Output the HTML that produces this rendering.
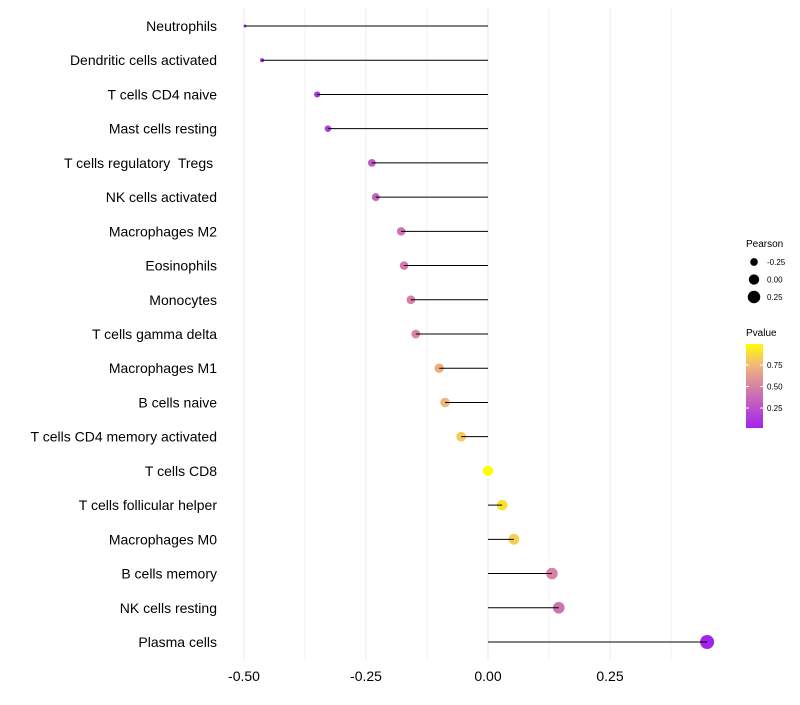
<!DOCTYPE html>
<html><head><meta charset="utf-8"><style>
body{margin:0;background:#fff}
svg{font-family:"Liberation Sans",sans-serif}
text{white-space:pre}
</style></head><body>
<svg id="c" width="800" height="700"></svg>
<script>
const categories=["Neutrophils","Dendritic cells activated","T cells CD4 naive","Mast cells resting","T cells regulatory  Tregs ","NK cells activated","Macrophages M2","Eosinophils","Monocytes","T cells gamma delta","Macrophages M1","B cells naive","T cells CD4 memory activated","T cells CD8","T cells follicular helper","Macrophages M0","B cells memory","NK cells resting","Plasma cells"];
const pearson=[-0.498,-0.463,-0.350,-0.328,-0.238,-0.230,-0.178,-0.172,-0.158,-0.148,-0.100,-0.088,-0.055,0.0,0.029,0.053,0.131,0.145,0.449];
const pvalue=[0.02,0.03,0.1,0.15,0.3,0.33,0.42,0.45,0.48,0.52,0.7,0.73,0.82,0.99,0.9,0.83,0.5,0.42,0.02];
const xTicks=[-0.5,-0.25,0,0.25];
const xTickLabels=["-0.50","-0.25","0.00","0.25"];
const legendSizes=[-0.25,0,0.25];
const legendSizeLabels=["-0.25","0.00","0.25"];
const colorTicks=[0.25,0.5,0.75];
const colorTickLabels=["0.25","0.50","0.75"];

const NS="http://www.w3.org/2000/svg";
const svg=document.getElementById('c');
function el(t,a,p){const e=document.createElementNS(NS,t);for(const k in a)e.setAttribute(k,a[k]);(p||svg).appendChild(e);return e;}
const x=v=>488+v*488;
const y=i=>26+i*(642-26)/18;
const r=v=>Math.sqrt(Math.max(1,26.85+49.2*v));
function col(p){
  const stops=[[0,[160,32,240]],[0.5,[215,130,165]],[0.75,[240,185,120]],[1,[255,255,0]]];
  for(let i=1;i<stops.length;i++){if(p<=stops[i][0]){const a=stops[i-1],b=stops[i];const t=(p-a[0])/(b[0]-a[0]);
    return 'rgb('+a[1].map((c,j)=>Math.round(c+(b[1][j]-c)*t)).join(',')+')';}}
  return 'rgb(255,255,0)';
}
[-0.375,-0.125,0.125,0.375].forEach(v=>{const g=el('line',{x1:x(v),x2:x(v),y1:8,y2:660,stroke:'#f3f3f3','stroke-width':1});

});
xTicks.forEach((v,i)=>{const g=el('line',{x1:x(v),x2:x(v),y1:8,y2:660,stroke:'#ebebeb','stroke-width':1});


const t=el('text',{x:x(v),y:681,'text-anchor':'middle','font-size':14,fill:'#000'});t.textContent=xTickLabels[i];

});
categories.forEach((c,i)=>{
  const t=el('text',{x:217,y:y(i)+5,'text-anchor':'end','font-size':14,fill:'#000'});t.textContent=c;
  
  
  const d=el('circle',{cx:x(pearson[i]),cy:y(i),r:r(pearson[i]),fill:col(pvalue[i])});
  
  
  const l=el('line',{x1:x(0),x2:x(pearson[i]),y1:y(i),y2:y(i),stroke:'#000','stroke-width':1});
  
  
});
let t=el('text',{x:746,y:247,'font-size':10});t.textContent='Pearson';


legendSizes.forEach((v,i)=>{const yy=262+i*17.5;
 const c=el('circle',{cx:754,cy:yy,r:r(v),fill:'#000'});
 
 
 const tt=el('text',{x:767,y:yy+3,'font-size':8});tt.textContent=legendSizeLabels[i];
 
 });
t=el('text',{x:746,y:336,'font-size':10});t.textContent='Pvalue';


const defs=el('defs',{});const lg=el('linearGradient',{id:'g',x1:0,y1:1,x2:0,y2:0},defs);
[0,0.25,0.5,0.75,1].forEach(o=>el('stop',{offset:o,'stop-color':col(0.018+o*0.972)},lg));
const bar=el('rect',{x:746,y:344,width:17,height:84,fill:'url(#g)'});


const cy=p=>428-(p-0.018)*86;
colorTicks.forEach((p,i)=>{el('line',{x1:746,x2:749,y1:cy(p),y2:cy(p),stroke:'#fff'});el('line',{x1:760,x2:763,y1:cy(p),y2:cy(p),stroke:'#fff'});
 const tt=el('text',{x:767,y:cy(p)+3,'font-size':8});tt.textContent=colorTickLabels[i];
 
 });
</script>
</body></html>
